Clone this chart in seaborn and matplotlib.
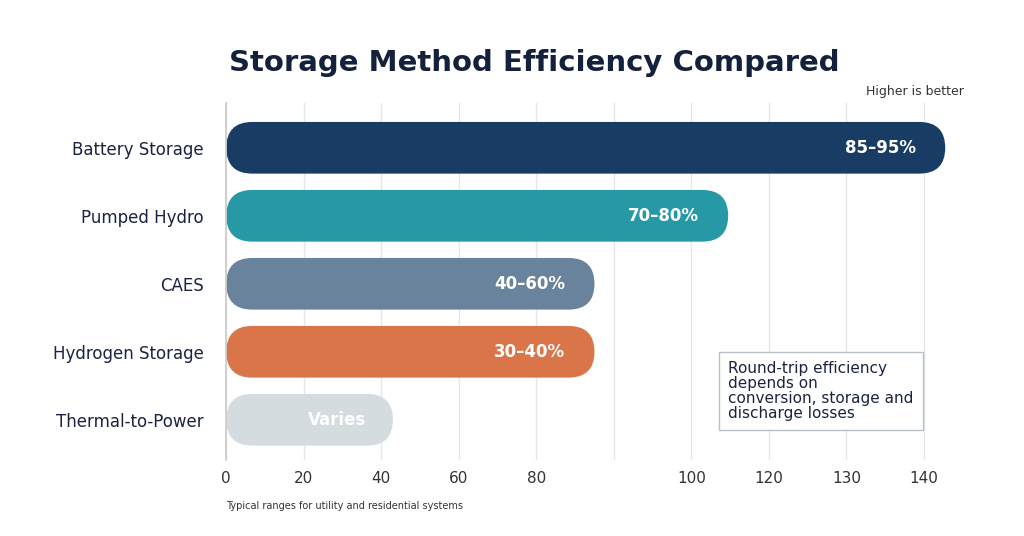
import matplotlib
matplotlib.use("Agg")
import matplotlib.pyplot as plt
import seaborn as sns
import pandas as pd
from matplotlib.patches import FancyBboxPatch

categories = ["Battery Storage", "Pumped Hydro", "CAES", "Hydrogen Storage", "Thermal-to-Power"]
bar_ends = [185.5, 129.5, 95.0, 95.0, 43.0]
value_labels = ["85–95%", "70–80%", "40–60%", "30–40%", "Varies"]
colors = ["#0d3b70", "#12a8bb", "#5f84a3", "#f26b32", "#d3dce2"]
tick_pos = [0, 20, 40, 60, 80, 100, 120, 140, 160, 180]
tick_labels = ["0", "20", "40", "60", "80", "", "100", "120", "130", "140"]

sns.set_theme(style="white")
plt.rcParams['font.family'] = ['DejaVu Sans']
fig = plt.figure(figsize=(10.24, 5.36), dpi=100)
ax = fig.add_axes([0.221, 0.142, 0.721, 0.666])
df = pd.DataFrame({"cat": categories, "val": bar_ends})
sns.barplot(data=df, x="val", y="cat", hue="cat", palette=colors, legend=False, ax=ax, width=0.76)
ax.set_xlim(0, 190.5)
ax.set_ylim(4.59, -0.66)
ax.set_xticks(tick_pos)
ax.set_xticklabels(tick_labels, fontsize=11, color="#333333")
ax.grid(axis="x", color="#e3e6ea", lw=1)
ax.set_axisbelow(True)
ax.set_xlabel(""); ax.set_ylabel("")
ax.tick_params(axis="y", labelsize=12, colors="#1a2440", length=0, pad=16)
ax.tick_params(axis="x", length=0, pad=8)
for s in ["top", "right", "bottom"]:
    ax.spines[s].set_visible(False)
ax.spines["left"].set_color("#cccccc")

for i, p in enumerate(list(ax.patches)):
    x, y, w, h = p.get_x(), p.get_y(), p.get_width(), p.get_height()
    fc = p.get_facecolor()
    p.remove()
    fb = FancyBboxPatch((x, y), w, h, boxstyle="round,pad=0,rounding_size=6.7",
                        mutation_aspect=0.057, fc=fc, ec="none", zorder=2)
    ax.add_patch(fb)
    if i == 4:
        ax.text(w * 0.55 + 5, y + h / 2, value_labels[i], ha="center", va="center",
                color="white", fontsize=12, fontweight="bold", zorder=3)
    else:
        ax.text(w - 7.5, y + h / 2, value_labels[i], ha="right", va="center",
                color="white", fontsize=12, fontweight="bold", zorder=3)

fig.text(0.224, 0.882, "Storage Method Efficiency Compared", fontsize=21, fontweight="bold",
         color="#14213d", va="center")
fig.text(0.941, 0.830, "Higher is better", fontsize=9, color="#333333", ha="right", va="center")
fig.text(0.221, 0.056, "Typical ranges for utility and residential systems", fontsize=7,
         color="#333333", va="center")
fig.text(0.711, 0.214, "Round-trip efficiency\ndepends on\nconversion, storage and\ndischarge losses",
         fontsize=11, color="#1a2440", va="bottom", ha="left", linespacing=1.0,
         bbox=dict(boxstyle="square,pad=0.6", fc="white", ec="#b8c0c8", lw=1))
fig.savefig("out.png", dpi=100, facecolor="white")
